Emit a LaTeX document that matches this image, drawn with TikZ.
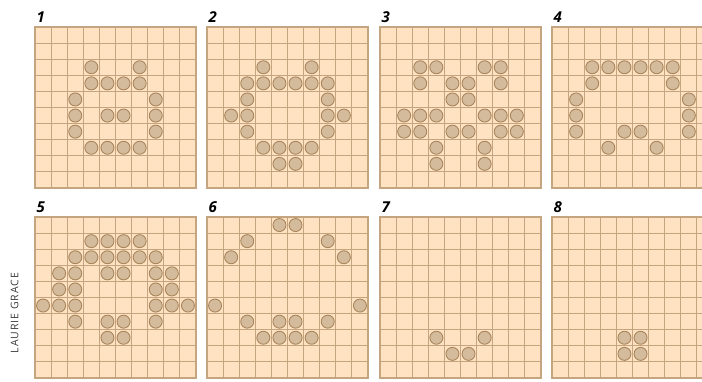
\documentclass[tikz,border=0pt]{standalone}
\usepackage{fontspec}
\setsansfont{Open Sans}
\newfontfamily\creditfont{Open Sans}[LetterSpace=9]
\usepackage{tikz}
\definecolor{cellfill}{HTML}{FFE2C2}
\definecolor{gridline}{HTML}{C4A57F}
\definecolor{dotfill}{HTML}{D3BB9C}
\definecolor{dotline}{HTML}{A9865C}
\definecolor{credit}{HTML}{3A3A3A}

\begin{document}
\begin{tikzpicture}[x=1pt,y=-1pt,
  gridbox/.style={fill=cellfill,draw=gridline,line width=1.1pt},
  cellline/.style={draw=gridline,line width=1pt},
  dot/.style={circle,fill=dotfill,draw=dotline,line width=0.9pt,
    minimum size=13pt,inner sep=0pt},
  panellabel/.style={font=\sffamily\bfseries\itshape\fontsize{15}{15}\selectfont,
    anchor=south west,inner sep=0pt}
]
\useasboundingbox (0,0) rectangle (702,381);
\clip (0,0) rectangle (702,381);

% eight generations, 10x10 cells each: number/left/top/{row/col of live cells}
\foreach \n/\px/\py/\cells in {
  1/35/27/{2/3,2/6,3/3,3/4,3/5,3/6,4/2,4/7,5/2,5/4,5/5,5/7,6/2,6/7,7/3,7/4,7/5,7/6},
  2/207/27/{2/3,2/6,3/2,3/3,3/4,3/5,3/6,3/7,4/2,4/7,5/1,5/2,5/7,5/8,6/2,6/7,7/3,7/4,7/5,7/6,8/4,8/5},
  3/380/27/{2/2,2/3,2/6,2/7,3/2,3/4,3/5,3/7,4/4,4/5,5/1,5/2,5/3,5/6,5/7,5/8,6/1,6/2,6/4,6/5,6/7,6/8,7/3,7/6,8/3,8/6},
  4/552/27/{2/2,2/3,2/4,2/5,2/6,2/7,3/2,3/7,4/1,4/8,5/1,5/8,6/1,6/4,6/5,6/8,7/3,7/6},
  5/35/217/{1/3,1/4,1/5,1/6,2/2,2/3,2/4,2/5,2/6,2/7,3/1,3/2,3/4,3/5,3/7,3/8,4/1,4/2,4/7,4/8,5/0,5/1,5/2,5/7,5/8,5/9,6/2,6/4,6/5,6/7,7/4,7/5},
  6/207/217/{0/4,0/5,1/2,1/7,2/1,2/8,5/0,5/9,6/2,6/4,6/5,6/7,7/3,7/4,7/5,7/6},
  7/380/217/{7/3,7/6,8/4,8/5},
  8/552/217/{7/4,7/5,8/4,8/5}} {
  \draw[gridbox] (\px,\py) rectangle ++(161,161);
  \foreach \k in {1,...,9} {
    \draw[cellline] (\px+\k*16.1,\py) -- ++(0,161);
    \draw[cellline] (\px,\py+\k*16.1) -- ++(161,0);
  }
  \foreach \r/\c in \cells
    \node[dot] (dot\n-\r-\c) at (\px+\c*16.1+8.05,\py+\r*16.1+8.05) {};
  \node[panellabel] (gen\n) at (\px+1.5,\py-4.5) {\n};
}

\node[rotate=90,font=\creditfont\fontsize{10.5}{10.5}\selectfont,text=credit,inner sep=0pt]
  (credit) at (14.5,313) {LAURIE GRACE};
\end{tikzpicture}
\end{document}
